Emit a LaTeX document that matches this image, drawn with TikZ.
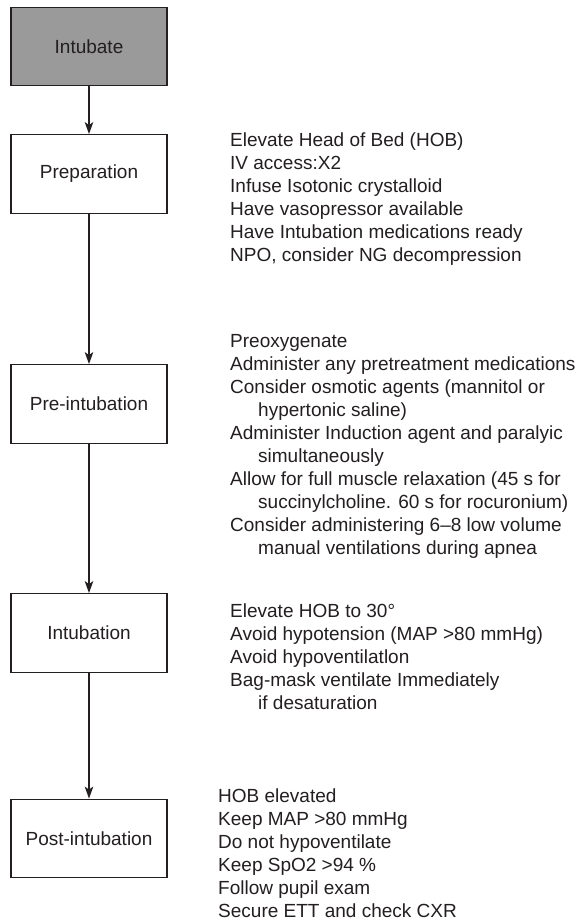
\documentclass[tikz,border=0pt]{standalone}
\usepackage{fontspec}
\setmainfont{Liberation Sans}
\usetikzlibrary{arrows.meta}
\definecolor{ink}{HTML}{231F20}
\definecolor{boxgray}{HTML}{9A9A9A}
\begin{document}
\begin{tikzpicture}[x=1pt,y=-1pt,
  every node/.style={text=ink, font=\fontsize{19}{23}\selectfont},
  stage/.style={draw=ink, line width=1.3pt, fill=white, minimum width=156pt,
    minimum height=78.5pt, inner sep=0pt, anchor=center},
  startbox/.style={stage, fill=boxgray},
  % anchored at the baseline of the last line of each list
  notes/.style={align=left, anchor=base west, inner sep=0pt},
  flow/.style={draw=ink, line width=1.3pt, -{Stealth[length=12pt,width=8.5pt,inset=3pt]}}]
\useasboundingbox (0,0) rectangle (586,922);
\fill[white] (0,0) rectangle (586,922);

% stages
\node[startbox] (intubate) at (89,46.5) {Intubate};
\node[stage] (prep) at (89,174) {Preparation};
\node[stage] (preint) at (89,404) {Pre-intubation};
\node[stage] (intub) at (89,633) {Intubation};
\node[stage] (post) at (89,838.5) {Post-intubation};

% connectors
\draw[flow] (intubate.south) -- (prep.north);
\draw[flow] (prep.south) -- (preint.north);
\draw[flow] (preint.south) -- (intub.north);
\draw[flow] (intub.south) -- (post.north);

% notes for each stage
\node[notes] (prepnotes) at (230,261) {Elevate Head of Bed (HOB)\\
IV access:X2\\
Infuse Isotonic crystalloid\\
Have vasopressor available\\
Have Intubation medications ready\\
NPO, consider NG decompression};

\node[notes] (preintnotes) at (230,554) {Preoxygenate\\
Administer any pretreatment medications\\
Consider osmotic agents (mannitol or\\
\hspace*{28pt}hypertonic saline)\\
Administer Induction agent and paralyic\\
\hspace*{28pt}simultaneously\\
Allow for full muscle relaxation (45 s for\\
\hspace*{28pt}succinylcholine. 60 s for rocuronium)\\
Consider administering 6–8 low volume\\
\hspace*{28pt}manual ventilations during apnea};

\node[notes] (intubnotes) at (230,709) {Elevate HOB to 30°\\
Avoid hypotension (MAP >80 mmHg)\\
Avoid hypoventilatlon\\
Bag-mask ventilate Immediately\\
\hspace*{28pt}if desaturation};

\node[notes] (postnotes) at (218,917) {HOB elevated\\
Keep MAP >80 mmHg\\
Do not hypoventilate\\
Keep SpO2 >94 \%\\
Follow pupil exam\\
Secure ETT and check CXR};
\end{tikzpicture}
\end{document}
